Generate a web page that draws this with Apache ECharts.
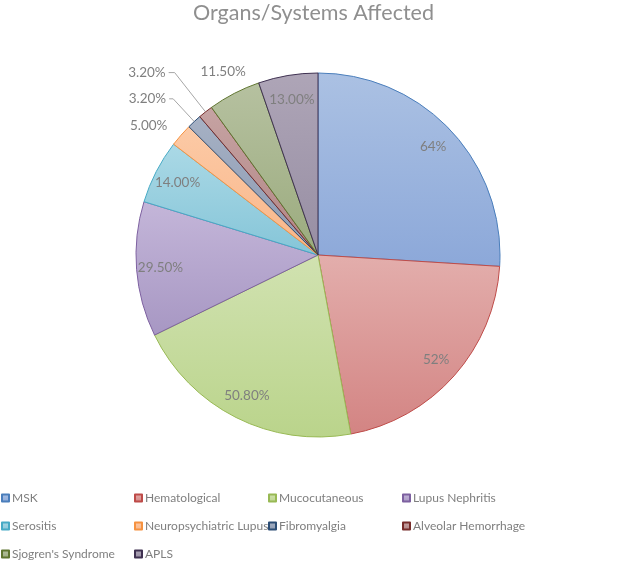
<!DOCTYPE html>
<html>
<head>
<meta charset="utf-8">
<script src="https://cdn.jsdelivr.net/npm/echarts@6/dist/echarts.min.js"></script>
<style>html,body{margin:0;padding:0;background:#fff}#c{width:627px;height:562px}</style>
</head>
<body>
<div id="c"></div>
<script>
const categories = ['MSK','Hematological','Mucocutaneous','Lupus Nephritis','Serositis','Neuropsychiatric Lupus','Fibromyalgia','Alveolar Hemorrhage',"Sjogren's Syndrome",'APLS'];
const values = [64, 52, 50.8, 29.5, 14, 5, 3.2, 3.2, 11.5, 13];
const valueLabels = ['64%','52%','50.80%','29.50%','14.00%','5.00%','3.20%','3.20%','11.50%','13.00%'];
const outsideIdx = [5, 6, 7];
const aboveIdx = [8];

const fillTop = ['#abc1e3','#e3aeac','#d1e2b1','#c4b6d9','#abd9e6','#fccaa6','#a6b1c4','#c6a3a3','#b6c1a0','#aea5b7'];
const fillBot = ['#8ca8d9','#d38483','#bad48b','#a797c3','#85c5d8','#f9b689','#8b99b1','#b18483','#9bab7e','#978ea3'];
const borders = ['#4a7ebb','#be4b48','#98b954','#7d60a0','#46aac5','#f69240','#2c4d75','#772c2a','#5f7530','#3f3151'];

// leader-line styling for the outside labels (by data index)
const leaderLen = {5: 14, 6: 31, 7: 50};
const leaderLen2 = {5: 0, 6: 4, 7: 6};

function grad(i){
  return {type:'linear',x:0,y:0,x2:0,y2:1,colorStops:[{offset:0,color:fillTop[i]},{offset:1,color:fillBot[i]}]};
}

const mainData = categories.map((n,i)=>{
  const out = outsideIdx.includes(i);
  const d = {
    name:n, value:values[i],
    itemStyle:{color:grad(i), borderColor:borders[i], borderWidth:1},
    label:{show:out},
    labelLine:{show:out && i!==5}
  };
  if (out) { d.labelLine.length = leaderLen[i]; d.labelLine.length2 = leaderLen2[i]; }
  return d;
});
const innerData = categories.map((n,i)=>({
  name:n, value:values[i],
  label:{show:!outsideIdx.includes(i) && !aboveIdx.includes(i)}
}));
const aboveData = categories.map((n,i)=>({
  name:n, value:values[i],
  label:{show:aboveIdx.includes(i)}
}));

const FONT = 'Lato';
const labelFont = {fontFamily:FONT, fontSize:13.5, color:'#7f7f7f'};

const chart = echarts.init(document.getElementById('c'), null, {renderer:'canvas'});

const legendCols = [[0,4,8],[1,5,9],[2,6],[3,7]];
const colLeft = [1,134,268,402];
const legends = legendCols.map((col,k)=>({
  orient:'vertical', left:colLeft[k], top:490, padding:0, height:80,
  data:col.map(i=>categories[i]),
  icon:'rect', itemWidth:7, itemHeight:7, itemGap:12,
  textStyle:{fontFamily:FONT, fontSize:12, color:'#7f7f7f', lineHeight:16, padding:[0,0,0,-2]},
  selectedMode:false
}));

chart.setOption({
  animation:false,
  title:{text:'Organs/Systems Affected', left:'center', top:0, padding:[2,5,5,5],
    textStyle:{fontFamily:FONT, fontSize:21.5, fontWeight:'normal', color:'#8f8f8f'}},
  legend:legends,
  series:[
    {
      type:'pie', center:[318,255], radius:[0,182], startAngle:90, clockwise:true,
      data:mainData,
      label:Object.assign({position:'outside', distanceToLabelLine:3, formatter:p=>valueLabels[p.dataIndex]}, labelFont),
      labelLine:{lineStyle:{color:'#a6a6a6', width:1}},
      emphasis:{disabled:true}
    },
    {
      type:'pie', center:[318,255], radius:[128,182], startAngle:90, clockwise:true,
      silent:true, legendHoverLink:false,
      data:innerData,
      itemStyle:{color:'rgba(0,0,0,0)', borderWidth:0},
      label:Object.assign({position:'inside', formatter:p=>valueLabels[p.dataIndex]}, labelFont),
      labelLine:{show:false},
      emphasis:{disabled:true}
    },
    {
      type:'pie', center:[318,255], radius:[184,222], startAngle:90, clockwise:true,
      silent:true, legendHoverLink:false,
      data:aboveData,
      itemStyle:{color:'rgba(0,0,0,0)', borderWidth:0},
      label:Object.assign({position:'inside', formatter:p=>valueLabels[p.dataIndex]}, labelFont),
      labelLine:{show:false},
      emphasis:{disabled:true}
    }
  ]
});
</script>
</body>
</html>
